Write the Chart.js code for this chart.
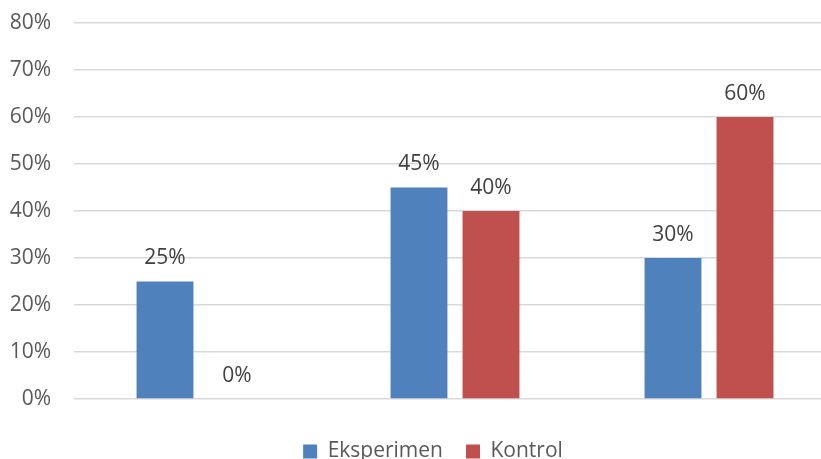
<!DOCTYPE html>
<html>
<head>
<meta charset="utf-8">
<script src="https://cdn.jsdelivr.net/npm/chart.js@4"></script>
<style>
  body { margin: 0; padding: 0; background: #fff; overflow: hidden; }
  #wrap { width: 821px; height: 459px; overflow: hidden; }
</style>
</head>
<body>
<div id="wrap">
  <canvas id="myChart" width="836" height="472"></canvas>
</div>
<script>
// chart data
const categories = ['', '', ''];
const eksperimen = [25, 45, 30];
const kontrol = [0, 40, 60];
const yTickLabels = ['0%', '10%', '20%', '30%', '40%', '50%', '60%', '70%', '80%'];

// draws the value above each bar
const valueLabels = {
  id: 'valueLabels',
  afterDatasetsDraw(chart) {
    const ctx = chart.ctx;
    ctx.save();
    ctx.font = '21px "Open Sans"';
    ctx.fillStyle = '#404040';
    ctx.textAlign = 'center';
    ctx.textBaseline = 'middle';
    chart.data.datasets.forEach((ds, i) => {
      chart.getDatasetMeta(i).data.forEach((bar, j) => {
        ctx.fillText(ds.data[j] + '%', bar.x, bar.y - 23);
      });
    });
    ctx.restore();
  }
};

// the original legend sits a bit right of the canvas centre
const shiftLegend = {
  id: 'shiftLegend',
  afterLayout(chart) {
    chart.legend.left += 15;
    chart.legend.right += 15;
  }
};

window.onload = function() {
  const ctx = document.getElementById('myChart').getContext('2d');
  new Chart(ctx, {
    type: 'bar',
    data: {
      labels: categories,
      datasets: [{
        label: 'Eksperimen',
        data: eksperimen,
        backgroundColor: '#4F81BD'
      }, {
        label: 'Kontrol',
        data: kontrol,
        backgroundColor: '#C0504D'
      }]
    },
    options: {
      responsive: false,
      animation: false,
      categoryPercentage: 0.567,
      barPercentage: 0.79,
      layout: { padding: { top: 23, left: 0, right: 0, bottom: 0 } },
      plugins: {
        tooltip: { enabled: false },
        legend: {
          position: 'bottom',
          labels: {
            boxWidth: 14,
            boxHeight: 14,
            padding: 23,
            color: '#595959',
            font: { family: 'Open Sans', size: 21 }
          }
        }
      },
      scales: {
        x: {
          afterFit(scale) { scale.height = 19; },
          grid: { display: false },
          border: { display: false },
          ticks: { display: false }
        },
        y: {
          min: 0,
          max: 80,
          afterFit(scale) {
            scale.width = 74;
            scale.paddingTop = 0;
            scale.paddingBottom = 0;
          },
          grid: { color: '#d9d9d9', lineWidth: 1.5, drawTicks: false },
          border: { display: false },
          ticks: {
            stepSize: 10,
            padding: 23,
            color: '#595959',
            font: { family: 'Open Sans', size: 21 },
            callback: (v, i) => yTickLabels[i]
          }
        }
      }
    },
    plugins: [valueLabels, shiftLegend]
  });
};
</script>
</body>
</html>
